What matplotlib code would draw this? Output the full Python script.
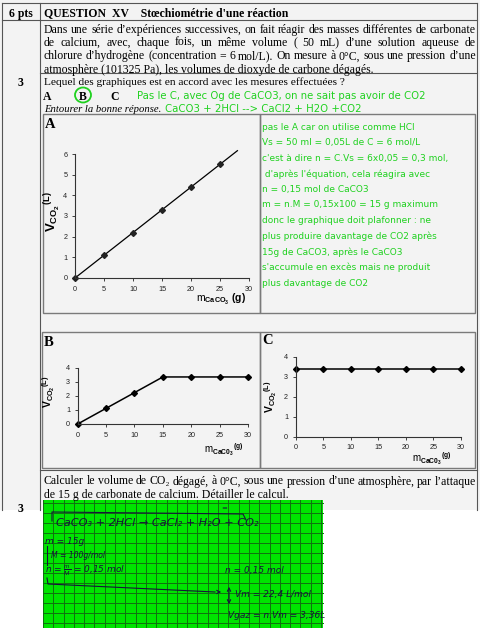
import matplotlib.pyplot as plt
from matplotlib.patches import Rectangle, Ellipse, FancyArrowPatch
from matplotlib.lines import Line2D
import numpy as np

plt.rcParams['mathtext.fontset'] = 'custom'
plt.rcParams['mathtext.rm'] = 'Liberation Sans'
plt.rcParams['mathtext.bf'] = 'Liberation Sans:bold'
plt.rcParams['mathtext.it'] = 'Liberation Sans:italic'

# donnees des graphiques
mass_a = [0, 5, 10, 15, 20, 25]
vol_a = [0, 1.1, 2.2, 3.3, 4.4, 5.5]
trend_a_x = [0, 28]
trend_a_y = [0, 6.16]
mass_bc = [0, 5, 10, 15, 20, 25, 30]
vol_b = [0, 1.12, 2.24, 3.36, 3.36, 3.36, 3.36]
vol_c = [3.36, 3.36, 3.36, 3.36, 3.36, 3.36, 3.36]
x_ticks = [0, 5, 10, 15, 20, 25, 30]
y_ticks_a = [0, 1, 2, 3, 4, 5, 6]
y_ticks_bc = [0, 1, 2, 3, 4]

# textes
paragraph = [
    "Dans une série d’expériences successives, on fait réagir des masses différentes de carbonate",
    "de calcium, avec, chaque fois, un même volume ( 50 mL) d’une solution aqueuse de",
    "chlorure d’hydrogène (concentration = 6 mol/L). On mesure à 0°C, sous une pression d’une",
    "atmosphère (101325 Pa), les volumes de dioxyde de carbone dégagés.",
]
remarks_a = [
    "pas le A car on utilise comme HCl",
    "Vs = 50 ml = 0,05L de C = 6 mol/L",
    "c'est à dire n = C.Vs = 6x0,05 = 0,3 mol,",
    " d'après l'équation, cela réagira avec",
    "n = 0,15 mol de CaCO3",
    "m = n.M = 0,15x100 = 15 g maximum",
    "donc le graphique doit plafonner : ne",
    "plus produire davantage de CO2 après",
    "15g de CaCO3, après le CaCO3",
    "s'accumule en excès mais ne produit",
    "plus davantage de CO2",
]

W, H = 480, 628
SERIF = ['Liberation Serif', 'DejaVu Serif']
SANS = ['Liberation Sans', 'DejaVu Sans']
GREEN = '#1fd11f'
INK = '#16163a'
LINE = '#555555'

fig = plt.figure(figsize=(4.8, 6.28), dpi=100)
fig.patch.set_facecolor('white')
renderer = fig.canvas.get_renderer()


def txt(x, y, s, **kw):
    return fig.text(x / W, 1 - y / H, s, **kw)


def width_of(t):
    return t.get_window_extent(renderer).width


def fit(x0, x1, y, s, size=8, **kw):
    kw.setdefault('va', 'center_baseline')
    t = txt(x0, y, s, fontsize=size, **kw)
    t.set_fontsize(size * (x1 - x0) / width_of(t))
    return t


def justify(x0, x1, y, s, size, **kw):
    kw.setdefault('va', 'center_baseline')
    words = s.split(' ')
    ts = [txt(x0, y, w, fontsize=size, **kw) for w in words]
    ws = [width_of(t) for t in ts]
    gap = (x1 - x0 - sum(ws)) / (len(ws) - 1)
    x = x0
    for t, w in zip(ts, ws):
        t.set_x(x / W)
        x += w + gap


def line(pts, color=LINE, lw=0.8, z=2):
    xs = [p[0] / W for p in pts]
    ys = [1 - p[1] / H for p in pts]
    fig.add_artist(Line2D(xs, ys, transform=fig.transFigure, color=color, lw=lw, zorder=z))


def rect(x0, y0, x1, y1, **kw):
    fig.add_artist(Rectangle((x0 / W, 1 - y1 / H), (x1 - x0) / W, (y1 - y0) / H,
                             transform=fig.transFigure, **kw))


def axes_px(l, t, r, b):
    return fig.add_axes([l / W, 1 - b / H, (r - l) / W, (b - t) / H])


# fond de page et tableau
rect(0, 0, 480, 510, facecolor='#f3f3f3', edgecolor='none', zorder=0)
line([(2, 3), (477, 3)])
line([(2, 20), (477, 20)])
line([(40, 73), (477, 73)])
line([(40, 470), (477, 470)])
line([(2, 3), (2, 510)])
line([(40, 3), (40, 510)])
line([(477, 3), (477, 510)])
for box in [(43, 114, 260, 313), (260, 114, 475, 313), (42, 332, 260, 468), (260, 332, 475, 468)]:
    rect(*box, facecolor='none', edgecolor='#7a7a7a', lw=1.0, zorder=2)

# taille du texte : la premiere ligne remplit la colonne
probe = txt(44, 28.5, paragraph[0], fontsize=8, family=SERIF)
BODY = 8 * 432 / width_of(probe)
probe.remove()

# en-tete
txt(21, 12, "6 pts", fontsize=8.5, fontweight='bold', family=SERIF, ha='center', va='center_baseline')
fit(44, 287, 12, "QUESTION  XV    Stœchiométrie d'une réaction", fontweight='bold', family=SERIF)
for i, s in enumerate(paragraph):
    y = 28.5 + i * 13.2
    if i < 3:
        justify(44, 476, y, s, BODY, family=SERIF)
    else:
        txt(44, y, s, fontsize=BODY, family=SERIF, va='center_baseline')

txt(21, 81, "3", fontsize=8.5, fontweight='bold', family=SERIF, ha='center', va='center_baseline')
fit(44, 345, 81, "Lequel des graphiques est en accord avec les mesures effectuées ?", family=SERIF)
for lab, x in zip(["A", "B", "C"], [47, 83, 115]):
    txt(x, 95, lab, fontsize=8.5, fontweight='bold', family=SERIF, ha='center', va='center_baseline')
fig.add_artist(Ellipse((83 / W, 1 - 95 / H), 16 / W, 15 / H, transform=fig.transFigure,
                       facecolor='none', edgecolor=GREEN, lw=1.3))
fit(137, 425, 95, "Pas le C, avec Og de CaCO3, on ne sait pas avoir de CO2", family=['DejaVu Sans'], color=GREEN)
fit(44, 162, 108, "Entourer la bonne réponse.", family=SERIF, style='italic')
fit(165, 362, 108, "CaCO3 + 2HCl --> CaCl2 + H2O +CO2", family=['DejaVu Sans'], color=GREEN)

# remarques a droite du graphique A
t0 = fit(262, 413, 126, remarks_a[0], family=['DejaVu Sans'], color=GREEN)
for i, s in enumerate(remarks_a[1:], start=1):
    txt(262, 126 + i * 15.6, s, fontsize=t0.get_fontsize(), family=['DejaVu Sans'], color=GREEN,
        va='center_baseline')


def style(ax, yticks):
    ax.set_xlim(0, 30)
    ax.set_ylim(0, yticks[-1])
    ax.set_xticks(x_ticks)
    ax.set_yticks(yticks)
    ax.patch.set_alpha(0)
    for s in ['top', 'right']:
        ax.spines[s].set_visible(False)
    for s in ['left', 'bottom']:
        ax.spines[s].set_color('#333333')
        ax.spines[s].set_linewidth(0.8)
    ax.tick_params(labelsize=5.2, length=2.5, width=0.6, pad=3, colors='#222222')
    for lab in ax.get_xticklabels() + ax.get_yticklabels():
        lab.set_family(SANS)


# graphique A
ax = axes_px(75, 154, 249, 278)
style(ax, y_ticks_a)
ax.plot(trend_a_x, trend_a_y, color='black', lw=0.9, clip_on=False)
ax.plot(mass_a, vol_a, 'D', color='#222222', ms=3, clip_on=False)
txt(50, 125, "A", fontsize=10.5, fontweight='bold', family=SERIF, ha='center', va='center')
txt(53, 212, r'$\mathbf{V}_{\mathbf{CO_2}}{}^{\mathbf{(L)}}$', fontsize=9.5, rotation=90,
    ha='center', va='center')
txt(221, 299, r'$\mathrm{m}_{\mathbf{CaCO_3}}\ \mathbf{(g)}$', fontsize=7.5, ha='center', va='center')

# graphique B
ax = axes_px(77.7, 368, 248, 424)
style(ax, y_ticks_bc)
ax.plot(mass_bc, vol_b, '-D', color='black', lw=1.1, ms=3, clip_on=False)
txt(49, 342, "B", fontsize=10.5, fontweight='bold', family=SERIF, ha='center', va='center')
txt(49, 392, r'$\mathbf{V}_{\mathbf{CO_2}}{}^{\mathbf{(L)}}$', fontsize=7.5, rotation=90,
    ha='center', va='center')
txt(224, 450, r'$\mathrm{m}_{\mathbf{CaC0_3}}{}^{\mathbf{(g)}}$', fontsize=7, ha='center', va='center')

# graphique C
ax = axes_px(295.7, 356.7, 461, 436.7)
style(ax, y_ticks_bc)
ax.plot(mass_bc, vol_c, '-D', color='black', lw=1.1, ms=3, clip_on=False)
txt(268, 340, "C", fontsize=10.5, fontweight='bold', family=SERIF, ha='center', va='center')
txt(271, 397, r'$\mathbf{V}_{\mathbf{CO_2}}{}^{\mathbf{(L)}}$', fontsize=7.5, rotation=90,
    ha='center', va='center')
txt(432, 459, r'$\mathrm{m}_{\mathbf{CaC0_3}}{}^{\mathbf{(g)}}$', fontsize=7, ha='center', va='center')

# question suivante
justify(44, 476, 480, "Calculer le volume de CO₂ dégagé, à 0°C, sous une pression d’une atmosphère, par l’attaque",
        BODY, family=SERIF)
txt(44, 493.5, "de 15 g de carbonate de calcium. Détailler le calcul.", fontsize=BODY, family=SERIF,
    va='center_baseline')
txt(21, 507, "3", fontsize=8.5, fontweight='bold', family=SERIF, ha='center', va='center_baseline')

# feuille verte manuscrite
rect(43, 500, 323, 628, facecolor='#00e400', edgecolor='none', zorder=3)
for gx in np.arange(43, 324, 10.3):
    line([(gx, 500), (gx, 628)], color='#117011', lw=0.7, z=3)
for gy in np.arange(503, 629, 10.0):
    line([(43, gy), (323, gy)], color='#117011', lw=0.7, z=3)

hand = dict(family=['DejaVu Sans'], style='italic', color=INK, zorder=4)
fit(56, 260, 522, "CaCO₃ + 2HCl → CaCl₂ + H₂O + CO₂", **hand)
line([(52, 521), (52, 512), (243, 514), (246, 520)], color=INK, lw=0.8, z=4)
txt(221, 508, "=", fontsize=5, va='center', **hand)
txt(45, 541, "m = 15g", fontsize=6.5, va='center', **hand)
txt(51, 555, "M = 100g/mol", fontsize=5.5, va='center', **hand)
line([(47, 546), (47, 565)], color=INK, lw=0.8, z=4)
txt(45, 571, r"n = $\frac{m}{M}$ = 0,15 mol", fontsize=6.5, va='center', **hand)
line([(47, 578), (48, 584), (215, 592)], color=INK, lw=0.8, z=4)
fig.add_artist(FancyArrowPatch((215 / W, 1 - 592 / H), (224 / W, 1 - 592 / H), transform=fig.transFigure,
                               arrowstyle='->', mutation_scale=6, color=INK, lw=0.8, zorder=4))
txt(225, 570, "n = 0,15 mol", fontsize=6.5, va='center', **hand)
fig.add_artist(FancyArrowPatch((229 / W, 1 - 584 / H), (229 / W, 1 - 607 / H), transform=fig.transFigure,
                               arrowstyle='<->', mutation_scale=6, color=INK, lw=0.8, zorder=4))
txt(235, 595, "Vm = 22,4 L/mol", fontsize=6.5, va='center', **hand)
txt(228, 616, "Vgaz = n.Vm = 3,36L", fontsize=6.5, va='center', **hand)

fig.savefig('out.png', dpi=100)
